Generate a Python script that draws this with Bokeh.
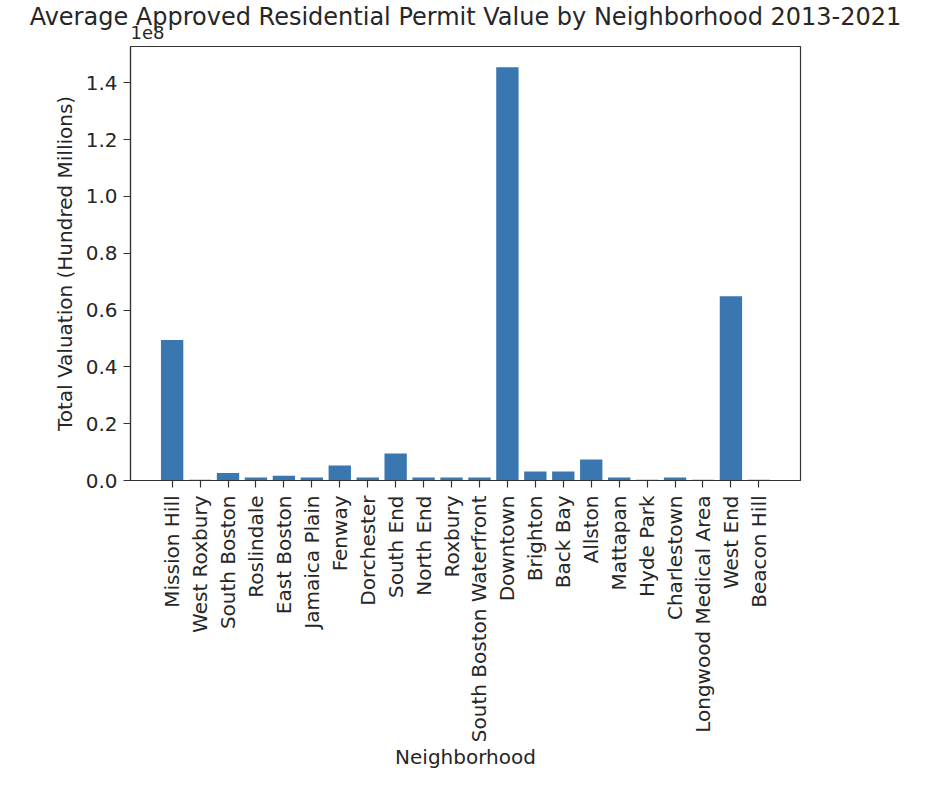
import math
from bokeh.plotting import figure
from bokeh.models import Range1d, FixedTicker, Title
from bokeh.embed import file_html
from bokeh.resources import INLINE

neighborhoods = ["Mission Hill", "West Roxbury", "South Boston", "Roslindale", "East Boston",
                 "Jamaica Plain", "Fenway", "Dorchester", "South End", "North End", "Roxbury",
                 "South Boston Waterfront", "Downtown", "Brighton", "Back Bay", "Allston",
                 "Mattapan", "Hyde Park", "Charlestown", "Longwood Medical Area", "West End",
                 "Beacon Hill"]
values = [49500000, 300000, 2600000, 1100000, 1700000,
          1100000, 5300000, 1100000, 9500000, 1100000, 1100000,
          1100000, 145500000, 3200000, 3200000, 7400000,
          1100000, 300000, 1100000, 300000, 64900000,
          300000]
y_ticks = [0, 20000000, 40000000, 60000000, 80000000, 100000000, 120000000, 140000000]
y_tick_labels = ["0.0", "0.2", "0.4", "0.6", "0.8", "1.0", "1.2", "1.4"]
title_text = "Average Approved Residential Permit Value by Neighborhood 2013-2021"
offset_text = "1e8"

FONT = "DejaVu Sans"
TXT = "#262626"

x = list(range(len(neighborhoods)))
n = len(neighborhoods)
xpad = (n - 1 + 0.8) * 0.05
ymax = max(values) * 1.05

W, H = 944, 788
TOP, BOTTOM = 46, 308

p = figure(width=W, height=H, output_backend="svg", toolbar_location=None,
           x_range=Range1d(-0.4 - xpad, n - 1 + 0.4 + xpad), y_range=Range1d(0, ymax),
           min_border_left=130, min_border_right=144, min_border_top=TOP, min_border_bottom=BOTTOM,
           title=None)

p.vbar(x=x, top=values, width=0.8, color="#3a76af", line_color=None)

# scientific offset text (nearest the frame), then the main title above it
t_off = Title(text=offset_text, align="left", vertical_align="middle", standoff=13,
              text_font=FONT, text_font_size="18px", text_font_style="normal", text_color=TXT)
p.add_layout(t_off, "above")
t_main = Title(text=title_text, align="center", vertical_align="top", standoff=-28,
               text_font=FONT, text_font_size="24px", text_font_style="normal", text_color=TXT)
p.add_layout(t_main, "above")

p.xgrid.visible = False
p.ygrid.visible = False
p.outline_line_color = "#333333"
p.outline_line_width = 1.2
p.background_fill_color = "white"
p.border_fill_color = "white"

for ax in (p.xaxis[0], p.yaxis[0]):
    ax.axis_line_color = "#333333"
    ax.axis_line_width = 1.2
    ax.major_tick_line_color = "#333333"
    ax.major_tick_line_width = 1.2
    ax.major_tick_out = 7
    ax.major_tick_in = 0
    ax.minor_tick_line_color = None
    ax.major_label_text_font = FONT
    ax.major_label_text_font_size = "20px"
    ax.major_label_text_color = TXT
    ax.axis_label_text_font = FONT
    ax.axis_label_text_font_size = "20px"
    ax.axis_label_text_font_style = "normal"
    ax.axis_label_text_color = TXT

p.xaxis.ticker = FixedTicker(ticks=x)
p.xaxis.major_label_overrides = {i: name for i, name in zip(x, neighborhoods)}
p.xaxis.major_label_orientation = math.pi / 2
p.xaxis.major_label_standoff = 8
p.xaxis.axis_label = "Neighborhood"
p.xaxis.axis_label_standoff = 0

p.yaxis.ticker = FixedTicker(ticks=y_ticks)
p.yaxis.major_label_overrides = {t: l for t, l in zip(y_ticks, y_tick_labels)}
p.yaxis.major_label_standoff = 6
p.yaxis.axis_label = "Total Valuation (Hundred Millions)"
p.yaxis.axis_label_standoff = 6

open("out.html", "w").write(file_html(p, INLINE))
